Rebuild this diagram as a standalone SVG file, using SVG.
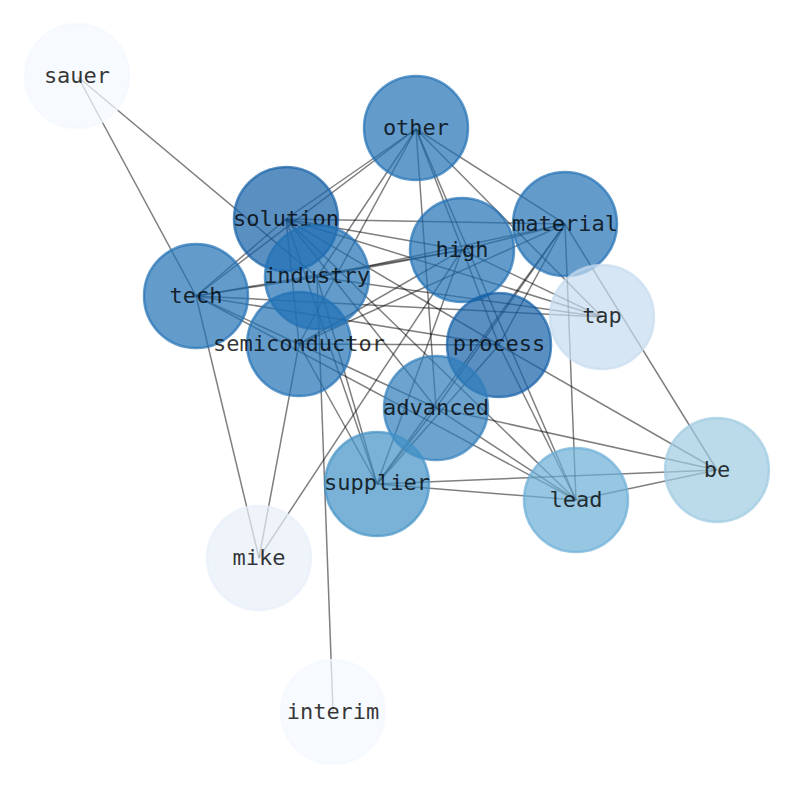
<svg xmlns="http://www.w3.org/2000/svg" width="794" height="790" viewBox="0 0 794 790">
<style>
.e{stroke:#000;stroke-opacity:0.5;stroke-width:1.5;fill:none}
.n circle{stroke-width:2.5;fill-opacity:0.7;stroke-opacity:0.7}
.n text{font-family:"DejaVu Sans Mono","Liberation Mono",monospace;font-size:22px;text-anchor:middle;fill:#000;fill-opacity:0.8}
</style>
<rect width="794" height="790" fill="#fff"/>
<g id="edges">
<line class="e" x1="78" y1="77" x2="196" y2="296"/>
<line class="e" x1="78" y1="77" x2="317" y2="277"/>
<line class="e" x1="196" y1="296" x2="259" y2="558"/>
<line class="e" x1="196" y1="296" x2="416" y2="129"/>
<line class="e" x1="196" y1="296" x2="286" y2="219"/>
<line class="e" x1="196" y1="296" x2="317" y2="277"/>
<line class="e" x1="196" y1="296" x2="462" y2="250"/>
<line class="e" x1="196" y1="296" x2="602" y2="317"/>
<line class="e" x1="196" y1="296" x2="499" y2="345"/>
<line class="e" x1="196" y1="296" x2="436" y2="408"/>
<line class="e" x1="196" y1="296" x2="576" y2="500"/>
<line class="e" x1="299" y1="344" x2="259" y2="558"/>
<line class="e" x1="462" y1="250" x2="259" y2="558"/>
<line class="e" x1="317" y1="277" x2="333" y2="712"/>
<line class="e" x1="416" y1="129" x2="286" y2="219"/>
<line class="e" x1="416" y1="129" x2="317" y2="277"/>
<line class="e" x1="416" y1="129" x2="299" y2="344"/>
<line class="e" x1="416" y1="129" x2="436" y2="408"/>
<line class="e" x1="416" y1="129" x2="499" y2="345"/>
<line class="e" x1="416" y1="129" x2="565" y2="224"/>
<line class="e" x1="416" y1="129" x2="602" y2="317"/>
<line class="e" x1="416" y1="129" x2="576" y2="500"/>
<line class="e" x1="286" y1="219" x2="565" y2="224"/>
<line class="e" x1="286" y1="219" x2="462" y2="250"/>
<line class="e" x1="286" y1="219" x2="602" y2="317"/>
<line class="e" x1="286" y1="219" x2="499" y2="345"/>
<line class="e" x1="286" y1="219" x2="576" y2="500"/>
<line class="e" x1="286" y1="219" x2="299" y2="344"/>
<line class="e" x1="286" y1="219" x2="436" y2="408"/>
<line class="e" x1="286" y1="219" x2="377" y2="484"/>
<line class="e" x1="317" y1="277" x2="462" y2="250"/>
<line class="e" x1="317" y1="277" x2="565" y2="224"/>
<line class="e" x1="317" y1="277" x2="602" y2="317"/>
<line class="e" x1="317" y1="277" x2="377" y2="484"/>
<line class="e" x1="299" y1="344" x2="499" y2="345"/>
<line class="e" x1="299" y1="344" x2="377" y2="484"/>
<line class="e" x1="299" y1="344" x2="565" y2="224"/>
<line class="e" x1="299" y1="344" x2="462" y2="250"/>
<line class="e" x1="462" y1="250" x2="602" y2="317"/>
<line class="e" x1="462" y1="250" x2="565" y2="224"/>
<line class="e" x1="462" y1="250" x2="377" y2="484"/>
<line class="e" x1="565" y1="224" x2="377" y2="484"/>
<line class="e" x1="565" y1="224" x2="436" y2="408"/>
<line class="e" x1="565" y1="224" x2="499" y2="345"/>
<line class="e" x1="565" y1="224" x2="576" y2="500"/>
<line class="e" x1="565" y1="224" x2="717" y2="470"/>
<line class="e" x1="499" y1="345" x2="717" y2="470"/>
<line class="e" x1="499" y1="345" x2="576" y2="500"/>
<line class="e" x1="499" y1="345" x2="377" y2="484"/>
<line class="e" x1="436" y1="408" x2="717" y2="470"/>
<line class="e" x1="436" y1="408" x2="576" y2="500"/>
<line class="e" x1="436" y1="408" x2="377" y2="484"/>
<line class="e" x1="377" y1="484" x2="717" y2="470"/>
<line class="e" x1="377" y1="484" x2="576" y2="500"/>
<line class="e" x1="576" y1="500" x2="717" y2="470"/>
</g>
<g id="node-sauer" class="n"><circle cx="77" cy="76" r="52" fill="#f3f8fe" stroke="#f3f8fe"/><text x="77" y="83">sauer</text></g>
<g id="node-other" class="n"><circle cx="416" cy="128" r="52" fill="#2171b5" stroke="#2171b5"/><text x="416" y="135">other</text></g>
<g id="node-solution" class="n"><circle cx="286" cy="219" r="52" fill="#145fa6" stroke="#145fa6"/><text x="286" y="226">solution</text></g>
<g id="node-material" class="n"><circle cx="565" cy="224" r="52" fill="#2171b5" stroke="#2171b5"/><text x="565" y="231">material</text></g>
<g id="node-high" class="n"><circle cx="462" cy="250" r="52" fill="#2171b5" stroke="#2171b5"/><text x="462" y="257">high</text></g>
<g id="node-industry" class="n"><circle cx="317" cy="277" r="52" fill="#2171b5" stroke="#2171b5"/><text x="317" y="283">industry</text></g>
<g id="node-tech" class="n"><circle cx="196" cy="296" r="52" fill="#2171b5" stroke="#2171b5"/><text x="196" y="303">tech</text></g>
<g id="node-tap" class="n"><circle cx="602" cy="317" r="52" fill="#c6dbef" stroke="#c6dbef"/><text x="602" y="323">tap</text></g>
<g id="node-semiconductor" class="n"><circle cx="299" cy="344" r="52" fill="#2171b5" stroke="#2171b5"/><text x="299" y="351">semiconductor</text></g>
<g id="node-process" class="n"><circle cx="499" cy="345" r="52" fill="#145fa6" stroke="#145fa6"/><text x="499" y="351">process</text></g>
<g id="node-advanced" class="n"><circle cx="436" cy="408" r="52" fill="#2f7dbb" stroke="#2f7dbb"/><text x="436" y="415">advanced</text></g>
<g id="node-be" class="n"><circle cx="717" cy="470" r="52" fill="#9ecae1" stroke="#9ecae1"/><text x="717" y="477">be</text></g>
<g id="node-supplier" class="n"><circle cx="377" cy="484" r="52" fill="#4292c6" stroke="#4292c6"/><text x="377" y="490">supplier</text></g>
<g id="node-lead" class="n"><circle cx="576" cy="500" r="52" fill="#6baed6" stroke="#6baed6"/><text x="576" y="507">lead</text></g>
<g id="node-mike" class="n"><circle cx="259" cy="558" r="52" fill="#e8f0f9" stroke="#e8f0f9"/><text x="259" y="565">mike</text></g>
<g id="node-interim" class="n"><circle cx="333" cy="712" r="52" fill="#f3f8fe" stroke="#f3f8fe"/><text x="333" y="719">interim</text></g>
</svg>
